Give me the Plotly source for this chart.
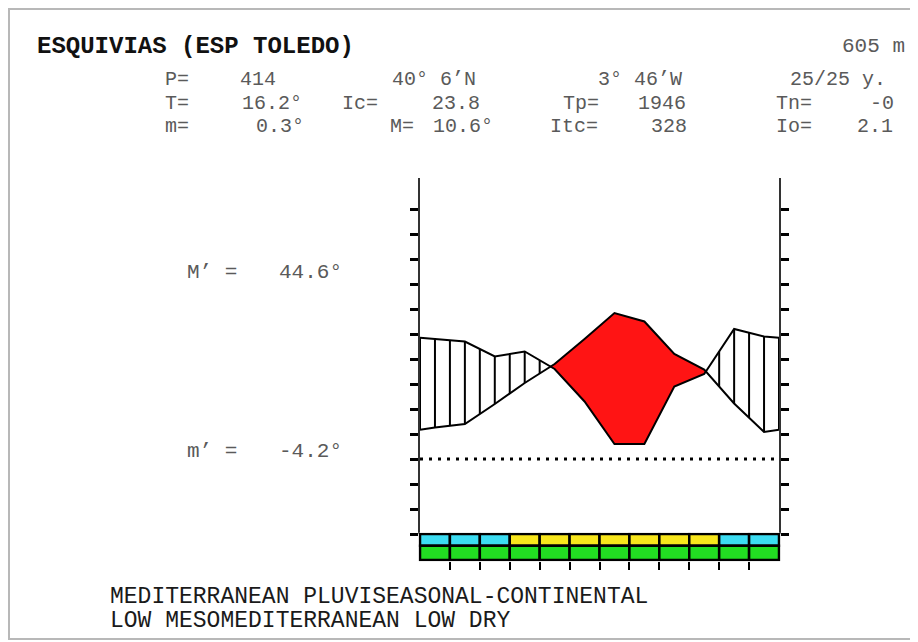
import numpy as np
import plotly.graph_objects as go

# ---------------- data ----------------
months = ["Jan", "Feb", "Mar", "Apr", "May", "Jun", "Jul", "Aug", "Sep", "Oct", "Nov", "Dec"]
temperature = [6.3, 7.0, 11.0, 15.2, 19.0, 24.0, 29.2, 27.5, 21.0, 17.9, 11.1, 5.4]   # deg C
precipitation = [48, 47, 41, 43, 36, 23, 6, 6, 29, 34, 52, 49]                     # mm
frost_row = ["cold", "cold", "cold", "warm", "warm", "warm", "warm", "warm", "warm", "warm", "cold", "cold"]
activity_row = ["active"] * 12
y_ticks = list(range(-15, 55, 5))

station = "ESQUIVIAS (ESP TOLEDO)"
altitude = "605 m"
abs_max_label = ["M’ =", "44.6°"]
abs_min_label = ["m’ =", "-4.2°"]
bioclimate = ["MEDITERRANEAN PLUVISEASONAL-CONTINENTAL", "LOW MESOMEDITERRANEAN LOW DRY"]
# (text, column start, number of columns) per header row
header_rows = [
    [("P=", 0, 2), ("414", 5, 3), ("40° 6’N", 15, 7), ("3° 46’W", 29, 7), ("25/25 y.", 42, 8)],
    [("T=", 0, 2), ("16.2°", 5, 5), ("Ic=", 12, 3), ("23.8", 18, 4), ("Tp=", 27, 3), ("1946", 32, 4),
     ("Tn=", 41.5, 3), ("-0", 48, 2)],
    [("m=", 0, 2), ("0.3°", 6, 4), ("M=", 15.3, 2), ("10.6°", 18, 5), ("Itc=", 26, 4), ("328", 33, 3),
     ("Io=", 41.5, 3), ("2.1", 47, 3)],
]

# ---------------- geometry helpers ----------------
# the page body has an 8px margin, so the figure starts at (8, 8) in the window
OX, OY = 8, 8
W, H = 910, 634
def px(x):
    return (x - OX) / W
def py(y):
    return 1 - (y - OY) / H

FONT = "Courier New, Liberation Mono, monospace"
color_map = {"cold": "#3CDCF2", "warm": "#F8E61C", "active": "#22DD22"}

# curves (precipitation on the P = 2T scale)
x_m = list(range(1, 13))
p_half = [p / 2 for p in precipitation]
edge_t = (temperature[0] + temperature[-1]) / 2
edge_p = (p_half[0] + p_half[-1]) / 2
xc = [0.5] + x_m + [12.5]
tc = [edge_t] + temperature + [edge_t]
pc = [edge_p] + p_half + [edge_p]

# crossing points of the two curves
cross = []
for i in range(len(xc) - 1):
    d0 = pc[i] - tc[i]
    d1 = pc[i + 1] - tc[i + 1]
    if d0 * d1 < 0:
        cross.append(xc[i] + (xc[i + 1] - xc[i]) * d0 / (d0 - d1))
x_all = np.array(sorted(xc + cross))
t_all = np.interp(x_all, xc, tc)
p_all = np.interp(x_all, xc, pc)
lower = np.minimum(t_all, p_all)

fig = go.Figure()

# dry period (red)
fig.add_trace(go.Scatter(x=x_all, y=lower, mode="lines", line=dict(width=0), hoverinfo="skip"))
fig.add_trace(go.Scatter(x=x_all, y=t_all, mode="lines", line=dict(width=0), fill="tonexty",
                         fillcolor="#FF1414", hoverinfo="skip"))

# humid period (vertical hatching every half month)
hx = np.arange(0.5, 12.51, 0.5)
ht = np.interp(hx, xc, tc)
hp = np.interp(hx, xc, pc)
hatch_x, hatch_y = [], []
for xv, tv, pv in zip(hx, ht, hp):
    if pv > tv:
        hatch_x += [xv, xv, None]
        hatch_y += [tv, pv, None]
fig.add_trace(go.Scatter(x=hatch_x, y=hatch_y, mode="lines", line=dict(color="black", width=2),
                         hoverinfo="skip", cliponaxis=False))

# curves
fig.add_trace(go.Scatter(x=xc, y=pc, mode="lines", line=dict(color="black", width=2), name="P/2"))
fig.add_trace(go.Scatter(x=xc, y=tc, mode="lines", line=dict(color="black", width=2), name="T"))

# monthly colour bars
fig.add_trace(go.Bar(x=x_m, y=[0.9] * 12, base=[1.1] * 12, width=1,
                     marker=dict(color=[color_map[c] for c in frost_row], line=dict(color="black", width=2.5)),
                     xaxis="x2", yaxis="y2", hoverinfo="skip"))
fig.add_trace(go.Bar(x=x_m, y=[1.1] * 12, base=[0] * 12, width=1,
                     marker=dict(color=[color_map[c] for c in activity_row], line=dict(color="black", width=2.5)),
                     xaxis="x2", yaxis="y2", hoverinfo="skip"))

# zero line (dotted)
fig.add_shape(type="line", xref="x", yref="y", x0=0.5, x1=12.5, y0=0, y1=0,
              line=dict(color="black", width=3, dash="3px,6px"))

# frame
fig.add_shape(type="rect", xref="paper", yref="paper", x0=px(9), x1=px(914), y0=py(639), y1=py(9),
              line=dict(color="#b8b8b8", width=2))

fig.update_layout(
    width=W, height=H, margin=dict(l=0, r=0, t=0, b=0),
    paper_bgcolor="white", plot_bgcolor="white", showlegend=False, barmode="overlay",
    xaxis=dict(domain=[px(420), px(779)], range=[0.5, 12.5], visible=False),
    yaxis=dict(domain=[py(534), py(178)], range=[-15, 56.2], tickvals=y_ticks, ticks="outside",
               ticklen=8, tickwidth=2.5, tickcolor="black", showticklabels=False, showline=True,
               linecolor="#333", linewidth=1.5, mirror="ticks", showgrid=False, zeroline=False),
    xaxis2=dict(domain=[px(418.5), px(780.5)], range=[0.45, 12.55], anchor="y2",
                tickvals=[i + 0.5 for i in range(1, 12)], ticks="outside", ticklen=8, tickwidth=2,
                tickcolor="black", showticklabels=False, showline=False, showgrid=False, zeroline=False),
    yaxis2=dict(domain=[py(561.3), py(532.7)], range=[-0.1, 2.1], visible=False, anchor="x2"),
)

def text(x, y, s, size=20, color="#5a5a5a", anchor="left", bold=False):
    if bold:
        s = "<b>" + s + "</b>"
    fig.add_annotation(x=px(x), y=py(y), xref="paper", yref="paper", text=s, showarrow=False,
                       xanchor=anchor, yanchor="middle", font=dict(family=FONT, size=size, color=color))

CH = 14.7
C0 = 162
text(35, 47, station, size=24, color="#111", bold=True)
text(907, 47, altitude, size=21, anchor="right")
for row, yy in zip(header_rows, [80, 103.5, 127]):
    for s, c, n in row:
        text(C0 + (c + n / 2) * CH, yy, s, anchor="center")

text(185, 272, abs_max_label[0], size=21)
text(277, 272, abs_max_label[1], size=21)
text(185, 451, abs_min_label[0], size=21)
text(277, 451, abs_min_label[1], size=21)

text(108, 597, bioclimate[0], size=23, color="#1a1a1a")
text(108, 621, bioclimate[1], size=23, color="#1a1a1a")

fig.write_html("out.html")
